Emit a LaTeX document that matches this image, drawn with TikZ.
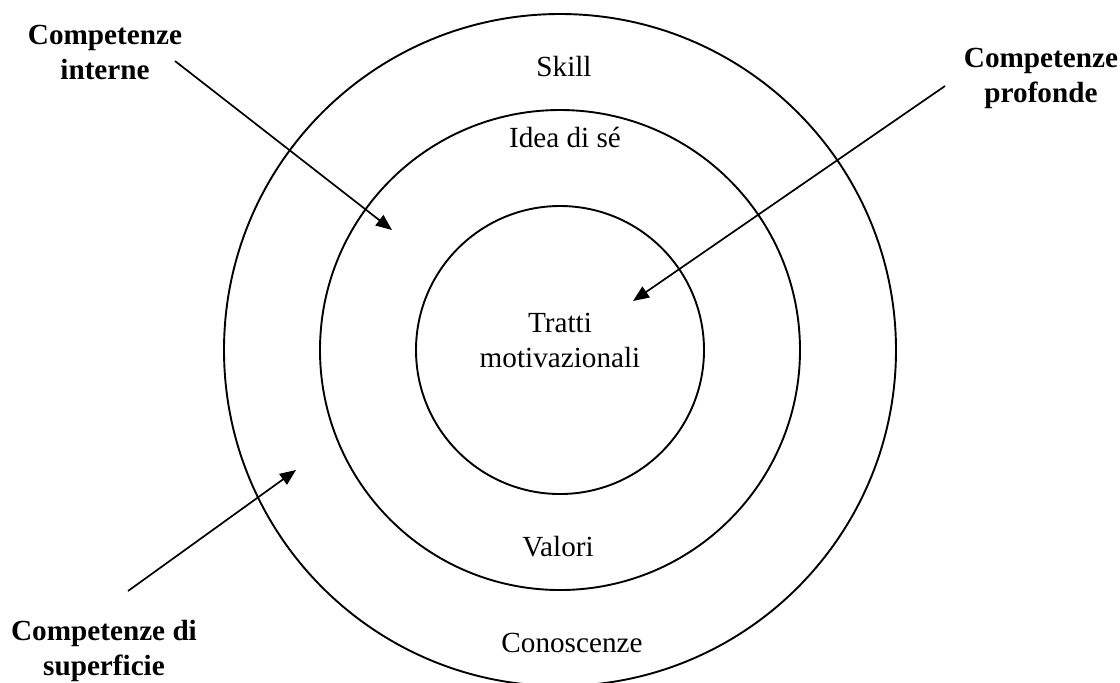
\documentclass[tikz,border=0pt]{standalone}
\usepackage{fontspec}
\setmainfont{Liberation Serif}
\usetikzlibrary{arrows.meta}
\begin{document}
\begin{tikzpicture}[x=0.5pt,y=-0.5pt,
  ring/.style={circle,draw,line width=0.95pt,inner sep=0pt},
  layer/.style={font=\fontsize{14.6}{17.5}\selectfont,anchor=base,inner sep=0pt,align=center},
  side/.style={font=\fontsize{14.6}{17.5}\selectfont\bfseries,align=center,anchor=base,inner sep=0pt},
  pointer/.style={line width=0.85pt,-{Triangle[length=8pt,width=6.5pt]}}]
\useasboundingbox (0,0) rectangle (1120,682);

% concentric rings of the competence model
\node[ring,minimum size=336pt] (outer)  at (560,350) {};
\node[ring,minimum size=240pt] (middle) at (560,350) {};
\node[ring,minimum size=144pt] (inner)  at (560,350) {};

% ring labels (base = baseline of the last line)
\node[layer] (skill)  at (564,76)  {Skill};
\node[layer] (idea)   at (565,147) {Idea di sé};
\node[layer] (tratti) at (560,367) {Tratti\\motivazionali};
\node[layer] (valori) at (558,556) {Valori};
\node[layer] (conosc) at (572,652) {Conoscenze};

% side captions
\node[side] (interne)  at (105,79)   {Competenze\\interne};
\node[side] (profonde) at (1041,102) {Competenze\\profonde};
\node[side] (superf)   at (104,675)  {Competenze di\\superficie};

% pointer arrows
\coordinate (intS) at (175,61);  \coordinate (intE) at (392,230);
\coordinate (proS) at (945,86);  \coordinate (proE) at (633,301);
\coordinate (supS) at (128,591); \coordinate (supE) at (296,470);
\draw[pointer] (intS) -- (intE);
\draw[pointer] (proS) -- (proE);
\draw[pointer] (supS) -- (supE);
\end{tikzpicture}
\end{document}
